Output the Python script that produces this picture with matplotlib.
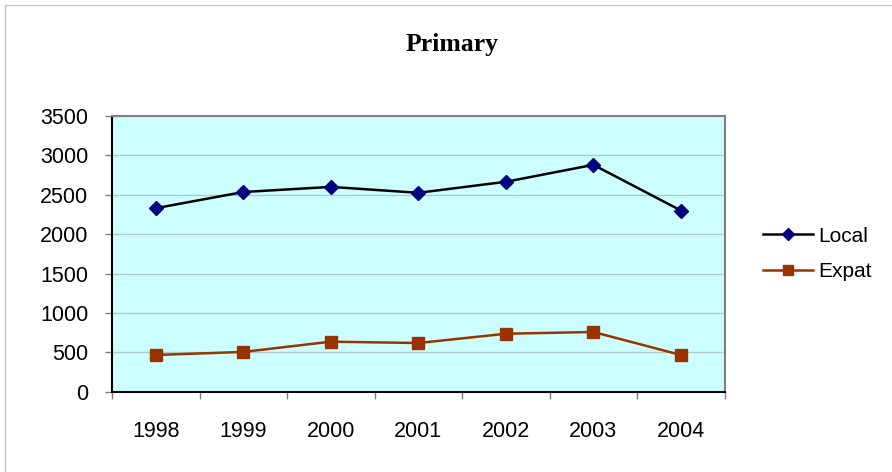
import matplotlib
matplotlib.use("Agg")
import matplotlib.pyplot as plt
from matplotlib.lines import Line2D
import numpy as np

years = ["1998", "1999", "2000", "2001", "2002", "2003", "2004"]
local = [2330, 2535, 2600, 2525, 2665, 2880, 2300]
expat = [466, 505, 635, 618, 736, 758, 466]
yticks = [0, 500, 1000, 1500, 2000, 2500, 3000, 3500]

fig = plt.figure(figsize=(8.92, 4.72), dpi=100)
fig.patch.set_facecolor("white")
# outer chart-area border (top and left visible)
fig.add_artist(Line2D([4.5/892, 4.5/892], [0, 1-5/472], transform=fig.transFigure,
                      color="#c8c8c8", linewidth=1.0))
fig.add_artist(Line2D([4.5/892, 1], [1-5/472, 1-5/472], transform=fig.transFigure,
                      color="#c8c8c8", linewidth=1.0))

ax = fig.add_axes([112/892, 1-391.7/472, (724.7-112)/892, (391.7-116)/472])
ax.set_facecolor("#CCFFFF")
x = np.arange(len(years))
ax.plot(x, local, color="black", linewidth=1.8, marker="D", markersize=7,
        markerfacecolor="#000080", markeredgecolor="#000080", label="Local", zorder=3)
ax.plot(x, expat, color="#993300", linewidth=1.8, marker="s", markersize=9,
        markerfacecolor="#993300", markeredgecolor="#993300", label="Expat", zorder=3)

fs = 15.5
ax.set_xlim(-0.5, len(years) - 0.5)
ax.set_ylim(0, 3500)
ax.set_yticks(yticks)
ax.set_yticklabels([str(v) for v in yticks], fontsize=fs, family="Liberation Sans")
ax.set_xticks(x)
ax.set_xticklabels(years, fontsize=fs, family="Liberation Sans")
ax.tick_params(axis="x", which="major", length=0, pad=21)
ax.set_xticks(np.arange(-0.5, len(years)), minor=True)
ax.tick_params(axis="x", which="minor", length=5, color="#808080", width=1)
ax.tick_params(axis="y", which="major", length=5, color="#808080", width=1, pad=12)
ax.yaxis.grid(True, color="#b4c8c8", linewidth=1.0)
ax.set_axisbelow(True)
for s in ["top", "right"]:
    ax.spines[s].set_color("#808080")
    ax.spines[s].set_linewidth(1.5)
for s in ["left", "bottom"]:
    ax.spines[s].set_color("black")
    ax.spines[s].set_linewidth(1.5)

fig.text(452/892, 1-44/472, "Primary", ha="center", va="center", fontsize=18.5,
         fontweight="bold", family="Liberation Serif")

leg = fig.legend(loc="center left", bbox_to_anchor=(763/892, 1-254/472), frameon=False,
                 prop={"family": "Liberation Sans", "size": 15}, handlelength=2.4,
                 handletextpad=0.25, labelspacing=0.8, borderpad=0, borderaxespad=0)
leg.legend_handles[0].set_markersize(6)
leg.legend_handles[1].set_markersize(7)

fig.savefig("out.png", dpi=100, facecolor="white")
